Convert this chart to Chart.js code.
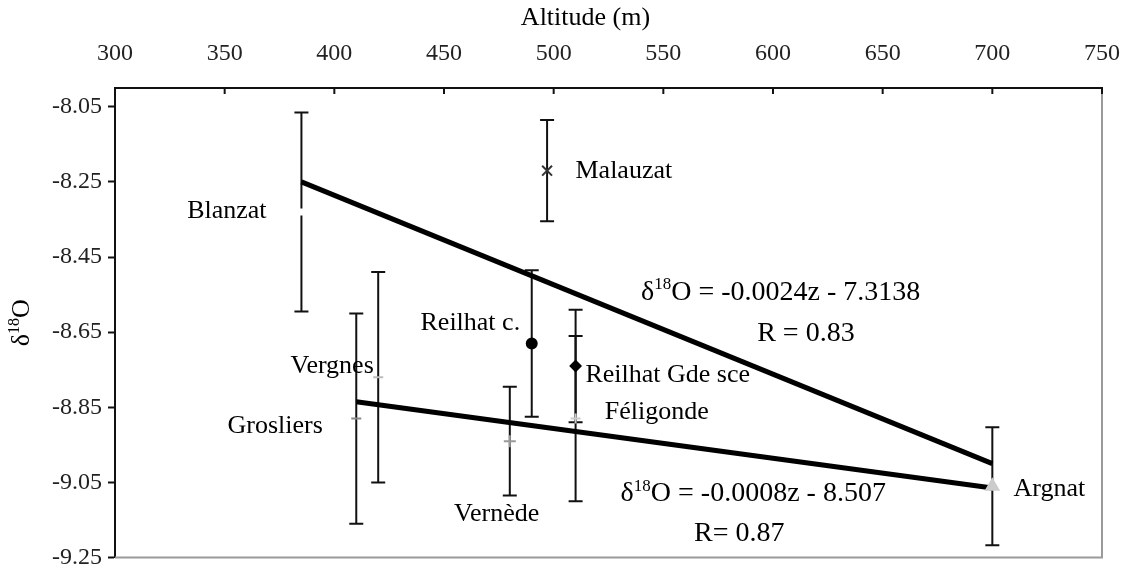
<!DOCTYPE html>
<html>
<head>
<meta charset="utf-8">
<script src="https://cdn.jsdelivr.net/npm/chart.js@4.4.1/dist/chart.umd.min.js"></script>
<style>
  html, body { margin: 0; padding: 0; background: #fff; }
  #wrap { width: 1132px; height: 578px; position: relative; }
</style>
</head>
<body>
<div id="wrap"><canvas id="chart"></canvas></div>
<script>
// Sampling sites: altitude (m), mean δ18O and its spread (error bar half-length)
const sites = ["Blanzat", "Malauzat", "Reilhat c.", "Reilhat Gde sce", "Féligonde", "Vergnes", "Grosliers", "Vernède", "Argnat"];
const altitudes = [385, 497, 490, 510, 510, 420, 410, 480, 700];
const delta18O = [-8.33, -8.22, -8.68, -8.74, -8.88, -8.77, -8.88, -8.94, -9.06];
const errors = [0.265, 0.135, 0.195, 0.15, 0.22, 0.28, 0.28, 0.145, 0.157];

// Regression lines (end points)
const fitHighZ = [385, 700];
const fitHighD = [-8.25, -9.0];
const fitLowZ = [410, 700];
const fitLowD = [-8.835, -9.065];

// Where each site name sits (altitude, δ18O)
const labelZ = [351, 532, 462, 552, 547, 399, 373, 474, 726];
const labelD = [-8.328, -8.222, -8.626, -8.764, -8.864, -8.74, -8.899, -9.134, -9.068];

// Equation annotations (^..^ marks a superscript)
const eqTexts = ["δ^18^O = -0.0024z - 7.3138", "R = 0.83", "δ^18^O = -0.0008z - 8.507", "R= 0.87"];
const eqZ = [603.5, 615, 591, 584.6];
const eqD = [-8.545, -8.653, -9.081, -9.187];

const xTicks = [300, 350, 400, 450, 500, 550, 600, 650, 700, 750];
const yTicks = [-9.25, -9.05, -8.85, -8.65, -8.45, -8.25, -8.05];

const FAMILY = '"Liberation Serif", "Times New Roman", serif';

// draws text with ^sup^ parts, centred on (cx, cy)
function drawRich(ctx, text, cx, cy, size) {
    const parts = text.split("^");
    const baseFont = size + "px " + FAMILY;
    const supFont = Math.round(size * 0.62) + "px " + FAMILY;
    let total = 0;
    parts.forEach((p, i) => {
        ctx.font = i % 2 ? supFont : baseFont;
        total += ctx.measureText(p).width;
    });
    let x = cx - total / 2;
    ctx.textAlign = "left";
    ctx.textBaseline = "middle";
    parts.forEach((p, i) => {
        const sup = i % 2 === 1;
        ctx.font = sup ? supFont : baseFont;
        ctx.fillText(p, x, sup ? cy - size * 0.28 : cy);
        x += ctx.measureText(p).width;
    });
}

const errorBars = {
    id: "errorBars",
    beforeDatasetsDraw(chart) {
        const { ctx, chartArea, scales: { x, y } } = chart;
        ctx.save();
        // grey frame on right and bottom
        ctx.strokeStyle = "#9a9a9a";
        ctx.lineWidth = 2;
        ctx.beginPath();
        ctx.moveTo(chartArea.right, chartArea.top);
        ctx.lineTo(chartArea.right, chartArea.bottom);
        ctx.lineTo(chartArea.left, chartArea.bottom);
        ctx.stroke();

        ctx.strokeStyle = "#111";
        ctx.lineWidth = 2;
        altitudes.forEach((z, i) => {
            const px = x.getPixelForValue(z);
            const top = y.getPixelForValue(delta18O[i] + errors[i]);
            const bot = y.getPixelForValue(delta18O[i] - errors[i]);
            ctx.beginPath();
            ctx.moveTo(px, top);
            ctx.lineTo(px, bot);
            ctx.moveTo(px - 7, top);
            ctx.lineTo(px + 7, top);
            ctx.moveTo(px - 7, bot);
            ctx.lineTo(px + 7, bot);
            ctx.stroke();
        });
        ctx.restore();
    },
    afterDraw(chart) {
        const { ctx, chartArea, scales: { x, y } } = chart;
        ctx.save();
        // inward tick marks on the top axis
        ctx.strokeStyle = "#111";
        ctx.lineWidth = 2;
        xTicks.forEach(v => {
            const px = x.getPixelForValue(v);
            ctx.beginPath();
            ctx.moveTo(px, chartArea.top);
            ctx.lineTo(px, chartArea.top + 6);
            ctx.stroke();
        });

        ctx.fillStyle = "#000";
        sites.forEach((name, i) => {
            ctx.font = "26px " + FAMILY;
            ctx.textAlign = "center";
            ctx.textBaseline = "middle";
            ctx.fillText(name, x.getPixelForValue(labelZ[i]), y.getPixelForValue(labelD[i]));
        });
        eqTexts.forEach((t, i) => {
            drawRich(ctx, t, x.getPixelForValue(eqZ[i]), y.getPixelForValue(eqD[i]), 28);
        });

        // axis titles
        ctx.font = "26px " + FAMILY;
        ctx.textAlign = "center";
        ctx.textBaseline = "middle";
        ctx.fillText("Altitude (m)", (chartArea.left + chartArea.right) / 2 - 23, 18);
        ctx.translate(22, (chartArea.top + chartArea.bottom) / 2);
        ctx.rotate(-Math.PI / 2);
        drawRich(ctx, "δ^18^O", 0, 0, 26);
        ctx.restore();
    }
};

new Chart(document.getElementById("chart"), {
    type: "scatter",
    data: {
        datasets: [
            {
                label: "Sites",
                data: altitudes.map((z, i) => ({ x: z, y: delta18O[i] })),
                pointStyle: ["rect", "crossRot", "circle", "rectRot", "cross", "line", "line", "cross", "triangle"],
                pointRadius: [3.5, 7, 5, 5, 5, 5, 5, 6, 7],
                pointBackgroundColor: ["#fff", "#444", "#000", "#000", "#ccc", "#bbb", "#999", "#999", "#ccc"],
                pointBorderColor: ["#fff", "#333", "#000", "#000", "#ccc", "#bbb", "#888", "#999", "#ccc"],
                pointBorderWidth: 2,
            },
            {
                label: "fit high",
                type: "line",
                data: fitHighZ.map((z, i) => ({ x: z, y: fitHighD[i] })),
                borderColor: "#000",
                borderWidth: 5,
                pointRadius: 0,
                fill: false,
            },
            {
                label: "fit low",
                type: "line",
                data: fitLowZ.map((z, i) => ({ x: z, y: fitLowD[i] })),
                borderColor: "#000",
                borderWidth: 5,
                pointRadius: 0,
                fill: false,
            },
        ],
    },
    options: {
        animation: false,
        responsive: true,
        maintainAspectRatio: false,
        layout: { padding: { left: 0, top: 0, right: 28, bottom: 17 } },
        plugins: {
            legend: { display: false },
            tooltip: { enabled: false },
        },
        scales: {
            x: {
                type: "linear",
                position: "top",
                min: 300,
                max: 750,
                afterBuildTicks: s => { s.ticks = xTicks.map(v => ({ value: v })); },
                afterFit: s => { s.height = 88; },
                grid: { display: false },
                border: { display: true, color: "#111", width: 2 },
                ticks: {
                    autoSkip: false,
                    maxRotation: 0,
                    padding: 12,
                    color: "#222",
                    font: { family: FAMILY, size: 24 },
                },
            },
            y: {
                type: "linear",
                min: -9.25,
                max: -8.0,
                afterBuildTicks: s => { s.ticks = yTicks.map(v => ({ value: v })); },
                afterFit: s => { s.width = 115; },
                grid: {
                    drawOnChartArea: false,
                    drawTicks: true,
                    tickLength: 7,
                    tickWidth: 2,
                    tickColor: "#111",
                },
                border: { display: true, color: "#111", width: 2 },
                ticks: {
                    autoSkip: false,
                    padding: 6,
                    color: "#222",
                    font: { family: FAMILY, size: 24 },
                    callback: v => Number(v).toFixed(2),
                },
            },
        },
    },
    plugins: [errorBars],
});
</script>
</body>
</html>
